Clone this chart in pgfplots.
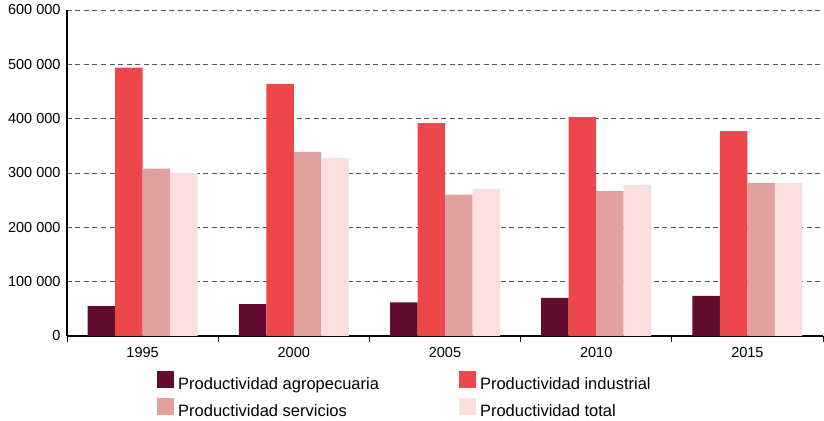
\documentclass[border=0pt]{standalone}
\usepackage{fontspec}
\setmainfont{Liberation Sans}
\usepackage{pgfplots}
\pgfplotsset{compat=1.18}
\definecolor{cagro}{HTML}{630A2F}
\definecolor{cind}{HTML}{EE474B}
\definecolor{cserv}{HTML}{E0A19F}
\definecolor{ctot}{HTML}{FBDFDE}
\begin{document}
\begin{tikzpicture}
\begin{axis}[name=ax, scale only axis, width=756pt, height=326pt,
 xmin=-0.5, xmax=4.5, ymin=0, ymax=600000,
 ybar=0pt, bar width=27.5pt,
 xtick={0,1,2,3,4}, xticklabels={1995,2000,2005,2010,2015},
 major x tick style={draw=none},
 extra x ticks={-0.5,0.5,1.5,2.5,3.5,4.5}, extra x tick labels={},
 extra x tick style={major x tick style={draw=black, line width=0.8pt}, major tick length=6pt, tick align=outside, grid=none},
 ytick={0,100000,200000,300000,400000,500000,600000},
 major y tick style={draw=none},
 scaled y ticks=false,
 /pgf/number format/.cd, fixed, 1000 sep={\ }, assume math mode=true, /pgfplots/.cd,
 ymajorgrids, grid style={dash pattern=on 5pt off 3.5pt, draw=black!65, line width=0.8pt},
 axis x line*=bottom, axis y line*=left, axis line style={-, line width=1.2pt, black},
 tick label style={font=\fontsize{14.5}{17}\selectfont},
 x tick label style={yshift=-4pt},
 y tick label style={xshift=-3pt},
 legend style={at={(axis description cs:0.119,0)}, anchor=north west, yshift=-35pt, draw=none, fill=none, inner sep=0pt,
   font=\fontsize{16.5}{20}\selectfont, row sep=5pt,
   nodes={inner xsep=4pt},
   /tikz/every even column/.append style={column sep=76pt}},
 legend columns=2, legend cell align=left,
 legend image code/.code={\fill[#1] (0pt,-4pt) rectangle (17pt,13pt);},
]
\addplot[fill=cagro, draw=none] coordinates {(0,55000) (1,58500) (2,62000) (3,70000) (4,74000)};
\addplot[fill=cind, draw=none] coordinates {(0,494000) (1,464000) (2,392000) (3,403000) (4,377000)};
\addplot[fill=cserv, draw=none] coordinates {(0,308000) (1,339000) (2,260000) (3,267000) (4,282000)};
\addplot[fill=ctot, draw=none] coordinates {(0,300000) (1,328000) (2,271000) (3,278000) (4,282000)};
\legend{Productividad agropecuaria, Productividad industrial, Productividad servicios, Productividad total}
\end{axis}
\pgfresetboundingbox
\path ([xshift=-67pt,yshift=-85pt]ax.south west) rectangle ([xshift=1pt,yshift=10pt]ax.north east);
\end{tikzpicture}
\end{document}
